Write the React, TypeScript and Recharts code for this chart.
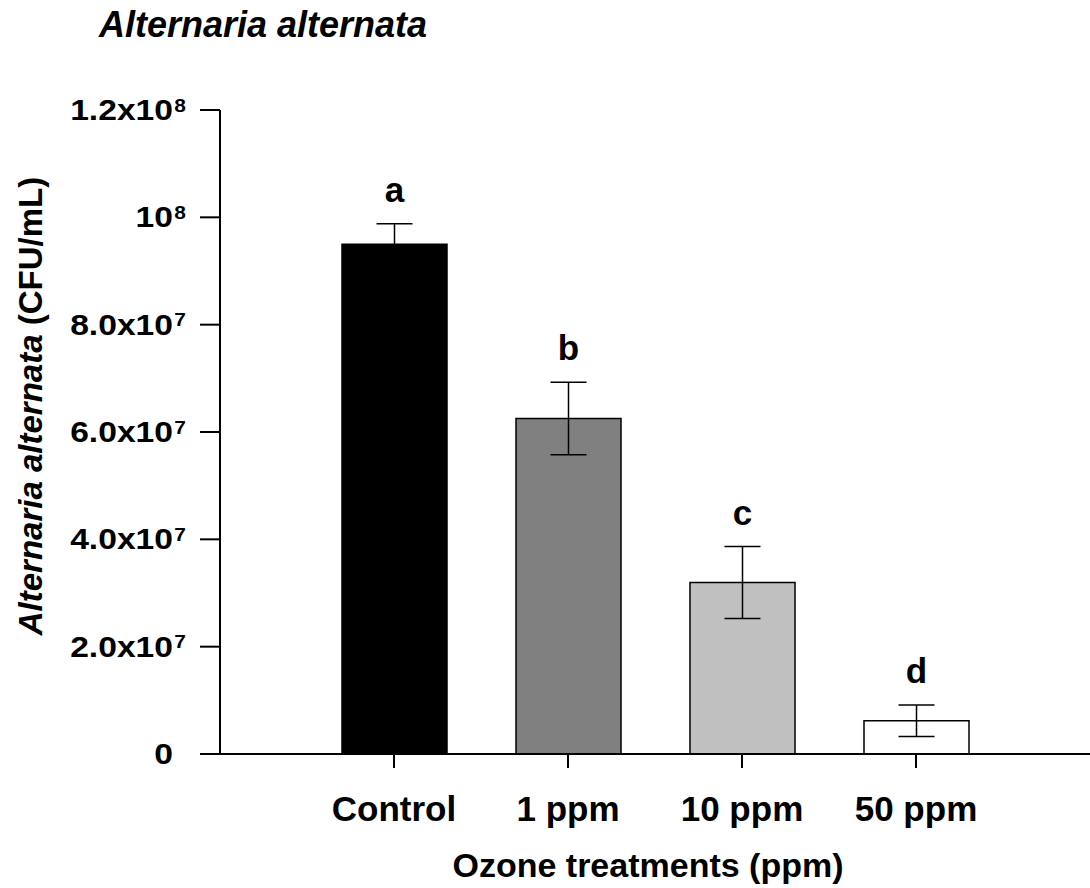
import { BarChart, Bar, XAxis, YAxis, Cell, ErrorBar, LabelList } from 'recharts';

const FONT = '"Liberation Sans", Arial, Helvetica, sans-serif';

// Ozone treatment groups and the mean counts (CFU/mL) with their error
const treatments = ['Control', '1 ppm', '10 ppm', '50 ppm'];
const meanCfu = [9.5e7, 6.25e7, 3.195e7, 6.2e6];
const errCfu = [3.8e6, 6.75e6, 6.7e6, 2.95e6];
const letters = ['a', 'b', 'c', 'd'];
const barColors = ['#000000', '#808080', '#c0c0c0', '#ffffff'];

// y axis ticks, written as mantissa + exponent
const yTicks = [0, 2e7, 4e7, 6e7, 8e7, 1e8, 1.2e8];
const yTickLabels: [string, string][] = [
  ['0', ''],
  ['2.0x10', '7'],
  ['4.0x10', '7'],
  ['6.0x10', '7'],
  ['8.0x10', '7'],
  ['10', '8'],
  ['1.2x10', '8'],
];

const data = treatments.map((name, i) => ({
  name,
  mean: meanCfu[i],
  err: errCfu[i],
  letter: letters[i],
}));

const YTick = (props: any) => {
  const { x, y, payload } = props;
  const idx = yTicks.indexOf(payload.value);
  const [main, exp] = yTickLabels[idx] || [String(payload.value), ''];
  return (
    <g transform={`translate(${x - 27},${y + 10}) scale(1.16,1)`}>
      <text x={0} y={0} textAnchor="end" fontSize={29} fontWeight="bold" fontFamily={FONT} fill="#000">
        {main}
      </text>
      {exp && (
        <text x={1} y={-8.5} textAnchor="start" fontSize={18} fontWeight="bold" fontFamily={FONT} fill="#000">
          {exp}
        </text>
      )}
    </g>
  );
};

const XTick = (props: any) => {
  const { x, y, payload } = props;
  return (
    <text x={x} y={y + 53} textAnchor="middle" fontSize={35} fontWeight="bold" fontFamily={FONT} fill="#000">
      {payload.value}
    </text>
  );
};

// significance letter sits a little above the top whisker
const LetterLabel = (props: any) => {
  const { x, y, width, height, index, value } = props;
  const d = data[index];
  const pxPerUnit = height / d.mean;
  const errTop = y - d.err * pxPerUnit;
  return (
    <text
      x={x + width / 2}
      y={errTop - 22}
      textAnchor="middle"
      fontSize={35}
      fontWeight="bold"
      fontFamily={FONT}
      fill="#000"
    >
      {value}
    </text>
  );
};

const YLabel = (props: any) => {
  const { viewBox } = props;
  const cx = viewBox.x + 42;
  const cy = viewBox.y + 296;
  return (
    <text
      transform={`translate(${cx},${cy}) rotate(-90)`}
      textAnchor="middle"
      fontSize={33}
      fontWeight="bold"
      fontFamily={FONT}
      fill="#000"
    >
      <tspan fontStyle="italic">Alternaria alternata</tspan>
      <tspan> (CFU/mL)</tspan>
    </text>
  );
};

const XLabel = (props: any) => {
  const { viewBox } = props;
  return (
    <text
      x={viewBox.x + 428}
      y={viewBox.y + 123}
      textAnchor="middle"
      fontSize={34}
      fontWeight="bold"
      fontFamily={FONT}
      fill="#000"
    >
      Ozone treatments (ppm)
    </text>
  );
};

export default function App() {
  return (
    <div style={{ position: 'absolute', left: 0, top: 0, width: 1090, height: 888, background: '#fff' }}>
      <svg width={1090} height={60} style={{ position: 'absolute', left: 0, top: 0 }}>
        <text x={99} y={37} fontSize={36} fontWeight="bold" fontStyle="italic" fontFamily={FONT} fill="#000">
          Alternaria alternata
        </text>
      </svg>
      <BarChart
        width={1090}
        height={888}
        data={data}
        margin={{ top: 110, right: 0, bottom: 74, left: 0 }}
        barSize={105}
      >
        <XAxis
          dataKey="name"
          height={60}
          padding={{ left: 87, right: 87 }}
          axisLine={{ stroke: '#000', strokeWidth: 2 }}
          tickLine={{ stroke: '#000', strokeWidth: 2 }}
          tickSize={14}
          tickMargin={0}
          tick={<XTick />}
          interval={0}
          label={<XLabel />}
        />
        <YAxis
          width={220}
          domain={[0, 1.2e8]}
          ticks={yTicks}
          interval={0}
          axisLine={{ stroke: '#000', strokeWidth: 2 }}
          tickLine={{ stroke: '#000', strokeWidth: 2 }}
          tickSize={20}
          tickMargin={0}
          tick={<YTick />}
          label={<YLabel />}
        />
        <Bar dataKey="mean" stroke="#000" strokeWidth={1.5} isAnimationActive={false}>
          {data.map((d, i) => (
            <Cell key={d.name} fill={barColors[i]} />
          ))}
          <ErrorBar dataKey="err" width={18} stroke="#000" strokeWidth={1.5} direction="y" isAnimationActive={false} />
          <LabelList dataKey="letter" content={<LetterLabel />} />
        </Bar>
      </BarChart>
    </div>
  );
}
